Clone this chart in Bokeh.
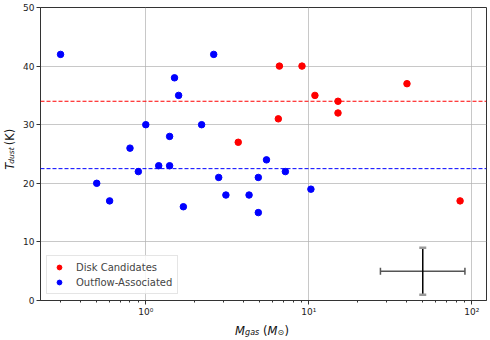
import numpy as np
from bokeh.plotting import figure
from bokeh.layouts import row, column
from bokeh.models import (ColumnDataSource, Span, Legend, LegendItem,
                          LogTicker, FixedTicker, CustomJSTickFormatter, Range1d)
from bokeh.core.properties import value
from bokeh.embed import file_html
from bokeh.resources import INLINE

# ---------------- data ----------------
disk_mass = [3.69, 6.6, 9.08, 6.5, 10.9, 15.1, 15.1, 40.0, 84.7]
disk_temp = [27, 40, 40, 31, 35, 34, 32, 37, 17]

outflow_mass = [0.30, 1.0, 0.80, 1.50, 1.59, 1.40, 1.20, 1.40, 0.90, 0.50, 0.60,
                1.70, 2.61, 2.20, 2.80, 3.10, 4.30, 4.90, 4.90, 5.50, 7.18, 10.3]
outflow_temp = [42, 30, 26, 38, 35, 28, 23, 23, 22, 20, 17,
                16, 42, 30, 21, 18, 18, 21, 15, 24, 22, 19]

disk_median = float(np.median(disk_temp))        # 34
outflow_median = float(np.median(outflow_temp))  # 22.5

err_x = [50.0]
err_x_low = [27.5]
err_x_high = [90.7]
err_y = [5.0]
err_y_low = [1.0]
err_y_high = [9.0]

x_major_ticks = [1, 10, 100]
y_ticks = [0, 10, 20, 30, 40, 50]

x_title_parts = ["M", "gas", "(", "M", "\u2299", ")"]
y_title_parts = ["T", "dust", "(K)"]

FONT = "DejaVu Sans"

# ---------------- layout sizes ----------------
YW = 20          # width of y-title strip
PW, PH = 468, 319
XH = 18          # height of x-title strip
BL, BR, BT, BB = 17, 2, 7, 17

p = figure(x_axis_type="log", width=PW, height=PH,
           x_range=Range1d(0.226, 123), y_range=Range1d(0, 50),
           output_backend="svg", toolbar_location=None,
           min_border_left=BL, min_border_right=BR, min_border_top=BT,
           min_border_bottom=BB)
p.background_fill_color = "white"
p.border_fill_color = "white"
p.outline_line_color = "#333333"
p.outline_line_width = 1

# axes
p.xaxis.ticker = LogTicker(mantissas=[1], num_minor_ticks=10)
p.xaxis.formatter = CustomJSTickFormatter(code="""
const sup = {"-":"\u207b","0":"\u2070","1":"\u00b9","2":"\u00b2","3":"\u00b3","4":"\u2074","5":"\u2075","6":"\u2076","7":"\u2077","8":"\u2078","9":"\u2079"};
const e = Math.round(Math.log10(tick)).toString();
let s = "";
for (const c of e) s += sup[c];
return "10" + s;
""")
p.yaxis.ticker = FixedTicker(ticks=y_ticks)
for ax in (p.xaxis, p.yaxis):
    ax.major_label_text_font = FONT
    ax.major_label_text_font_size = "9px"
    ax.major_label_text_color = "#222222"
    ax.axis_line_color = "#333333"
    ax.major_tick_line_color = "#333333"
    ax.minor_tick_line_color = "#333333"
    ax.major_tick_out = 4
    ax.major_tick_in = 0
    ax.minor_tick_out = 2
    ax.minor_tick_in = 0
    ax.major_label_standoff = 2
p.yaxis.minor_tick_line_color = None

p.xgrid.ticker = FixedTicker(ticks=x_major_ticks)
p.ygrid.ticker = FixedTicker(ticks=y_ticks)
for g in (p.xgrid, p.ygrid):
    g.grid_line_color = "#b0b0b0"
    g.grid_line_alpha = 0.7
    g.grid_line_width = 1

# median lines
p.add_layout(Span(location=disk_median, dimension="width", line_color="red",
                  line_dash="4 2", line_width=1))
p.add_layout(Span(location=outflow_median, dimension="width", line_color="blue",
                  line_dash="4 2", line_width=1))

# points
r_disk = p.scatter(disk_mass, disk_temp, size=6.5, color="red", line_color="red")
r_out = p.scatter(outflow_mass, outflow_temp, size=6.5, color="blue", line_color="blue")

# representative error bar
eb = ColumnDataSource(dict(x=err_x, y=err_y, xl=err_x_low, xh=err_x_high,
                           yl=err_y_low, yh=err_y_high))
p.segment(x0="xl", y0="y", x1="xh", y1="y", source=eb, line_color="#555555", line_width=1.5)
p.segment(x0="x", y0="yl", x1="x", y1="yh", source=eb, line_color="black", line_width=1.5)
p.scatter(x="xl", y="y", source=eb, marker="dash", angle=np.pi / 2, size=7,
          line_color="#555555", line_width=1.5)
p.scatter(x="xh", y="y", source=eb, marker="dash", angle=np.pi / 2, size=7,
          line_color="#555555", line_width=1.5)
p.scatter(x="x", y="yl", source=eb, marker="dash", size=7,
          line_color="#999999", line_width=2.5)
p.scatter(x="x", y="yh", source=eb, marker="dash", size=7,
          line_color="#999999", line_width=2.5)

# legend
legend = Legend(items=[LegendItem(label="Disk Candidates", renderers=[r_disk]),
                       LegendItem(label="Outflow-Associated", renderers=[r_out])],
                location="bottom_left")
legend.label_text_font = FONT
legend.label_text_font_size = "10px"
legend.label_height = 12
legend.glyph_height = 12
legend.glyph_width = 14
legend.spacing = 3
legend.padding = 5
legend.margin = 6
legend.label_standoff = 10
legend.border_line_color = "#cccccc"
legend.border_line_width = 1
legend.background_fill_alpha = 0.85
p.add_layout(legend)

# ---------------- axis titles (with subscripts) ----------------
def strip(w, h):
    f = figure(width=w, height=h, x_range=Range1d(0, w), y_range=Range1d(0, h),
               output_backend="svg", toolbar_location=None, min_border=0,
               x_axis_location=None, y_axis_location=None)
    f.grid.visible = False
    f.outline_line_color = None
    f.background_fill_color = "white"
    f.border_fill_color = "white"
    return f

def piece(f, text, x, y, size, style="normal", angle=0.0, align="left", base="alphabetic"):
    f.text(x=[x], y=[y], text=[text], text_font=value(FONT), text_font_size=size,
           text_font_style=style, angle=angle, text_align=align,
           text_baseline=base, text_color="#111111")

MAIN, SUB = "11.5px", "8px"

frame_cx = YW + BL + (PW - BL - BR) / 2
xfig = strip(YW + PW, XH)
x0 = frame_cx - 26.9
piece(xfig, x_title_parts[0], x0, 7, MAIN, "italic")
piece(xfig, x_title_parts[1], x0 + 10.0, 4.8, SUB, "italic")
piece(xfig, x_title_parts[2], x0 + 27.9, 7, MAIN)
piece(xfig, x_title_parts[3], x0 + 32.4, 7, MAIN, "italic")
piece(xfig, x_title_parts[4], x0 + 42.4, 4.8, SUB)
piece(xfig, x_title_parts[5], x0 + 49.3, 7, MAIN)

yfig = strip(YW, PH)
frame_cy = PH - (BT + (PH - BT - BB) / 2)
y0 = frame_cy - 21.9
ang = np.pi / 2
piece(yfig, y_title_parts[0], 9.2, y0 + 3.5, MAIN, "italic", ang, "center", "middle")
piece(yfig, y_title_parts[1], 11.4, y0 + 15.3, "7.5px", "italic", ang, "center", "middle")
piece(yfig, y_title_parts[2], 9.2, y0 + 35.5, MAIN, "normal", ang, "center", "middle")

layout = column(row(yfig, p, spacing=0), xfig, spacing=0)

open("out.html", "w").write(file_html(layout, INLINE))
